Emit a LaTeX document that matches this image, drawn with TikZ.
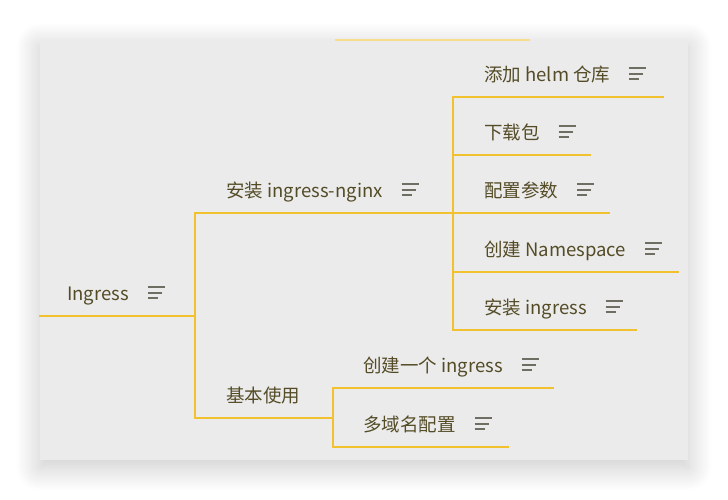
\documentclass[tikz,border=0pt]{standalone}
\usepackage{fontspec}
\setmainfont{Noto Sans CJK SC}
\usetikzlibrary{shadows.blur}

\definecolor{branch}{HTML}{F2C22E}
\definecolor{topictext}{HTML}{544C27}
\definecolor{panel}{HTML}{EBEBEB}
\definecolor{notegray}{HTML}{6E6E62}

% 备注图标：三条横线
\newcommand{\notemark}{\hspace{19pt}{\color{notegray}\raisebox{1.5pt}{\vbox{%
  \hrule width 17pt height 2pt \vskip 3.7pt
  \hrule width 14pt height 2pt \vskip 3.7pt
  \hrule width 10pt height 2pt}}}}
% 主题文字，宽度与下划线一致
\newcommand{\topicline}[3][31pt]{\makebox[#2][l]{\hspace*{#1}#3}}

\begin{document}
\begin{tikzpicture}
        [x=1pt, y=-1pt,
         topic/.style={anchor=south west, inner xsep=0pt, inner ysep=15pt,
           text depth=0pt, text=topictext, font=\fontsize{18.5pt}{22pt}\selectfont},
         branch line/.style={draw=branch, line width=2pt, line cap=rect}]
        \useasboundingbox (0,0) rectangle (728,500);
        \fill[panel, blur shadow={shadow xshift=0pt, shadow yshift=-7pt,
            shadow blur radius=24pt, shadow blur steps=20, shadow opacity=22}]
            (40,40) rectangle (688,460);
        \draw[branch!55, line width=1.2pt] (335,40) -- (530,40);

        % 根与第一层
        \node[topic] (ing) at (40,316) {\topicline[27pt]{155pt}{Ingress\notemark}};
        \node[topic] (inst) at (195,213) {\topicline{258pt}{安装 ingress-nginx\notemark}};
        \node[topic] (basic) at (195,418) {\topicline{138pt}{基本使用}};

        % 安装 ingress-nginx 的子主题
        \node[topic] (helm) at (453,97) {\topicline{210pt}{添加 helm 仓库\notemark}};
        \node[topic] (dl) at (453,155) {\topicline{137pt}{下载包\notemark}};
        \node[topic] (cfg) at (453,213) {\topicline{156pt}{配置参数\notemark}};
        \node[topic] (ns) at (453,272) {\topicline{225pt}{创建 Namespace\notemark}};
        \node[topic] (ingr) at (453,330) {\topicline{183pt}{安装 ingress\notemark}};

        % 基本使用的子主题
        \node[topic] (create) at (333,388) {\topicline[30pt]{220pt}{创建一个 ingress\notemark}};
        \node[topic] (multi) at (333,447) {\topicline[30pt]{175pt}{多域名配置\notemark}};

        % 下划线
        \foreach \n in {ing, inst, basic, helm, dl, cfg, ns, ingr, create, multi}
            \draw[branch line] (\n.south west) -- (\n.south east);

        % 连线
        \draw[branch line] (ing.south east) |- (inst.south west);
        \draw[branch line] (ing.south east) |- (basic.south west);
        \foreach \n in {helm, dl, cfg, ns, ingr}
            \draw[branch line] (inst.south east) |- (\n.south west);
        \foreach \n in {create, multi}
            \draw[branch line] (basic.south east) |- (\n.south west);
    \end{tikzpicture}
\end{document}
